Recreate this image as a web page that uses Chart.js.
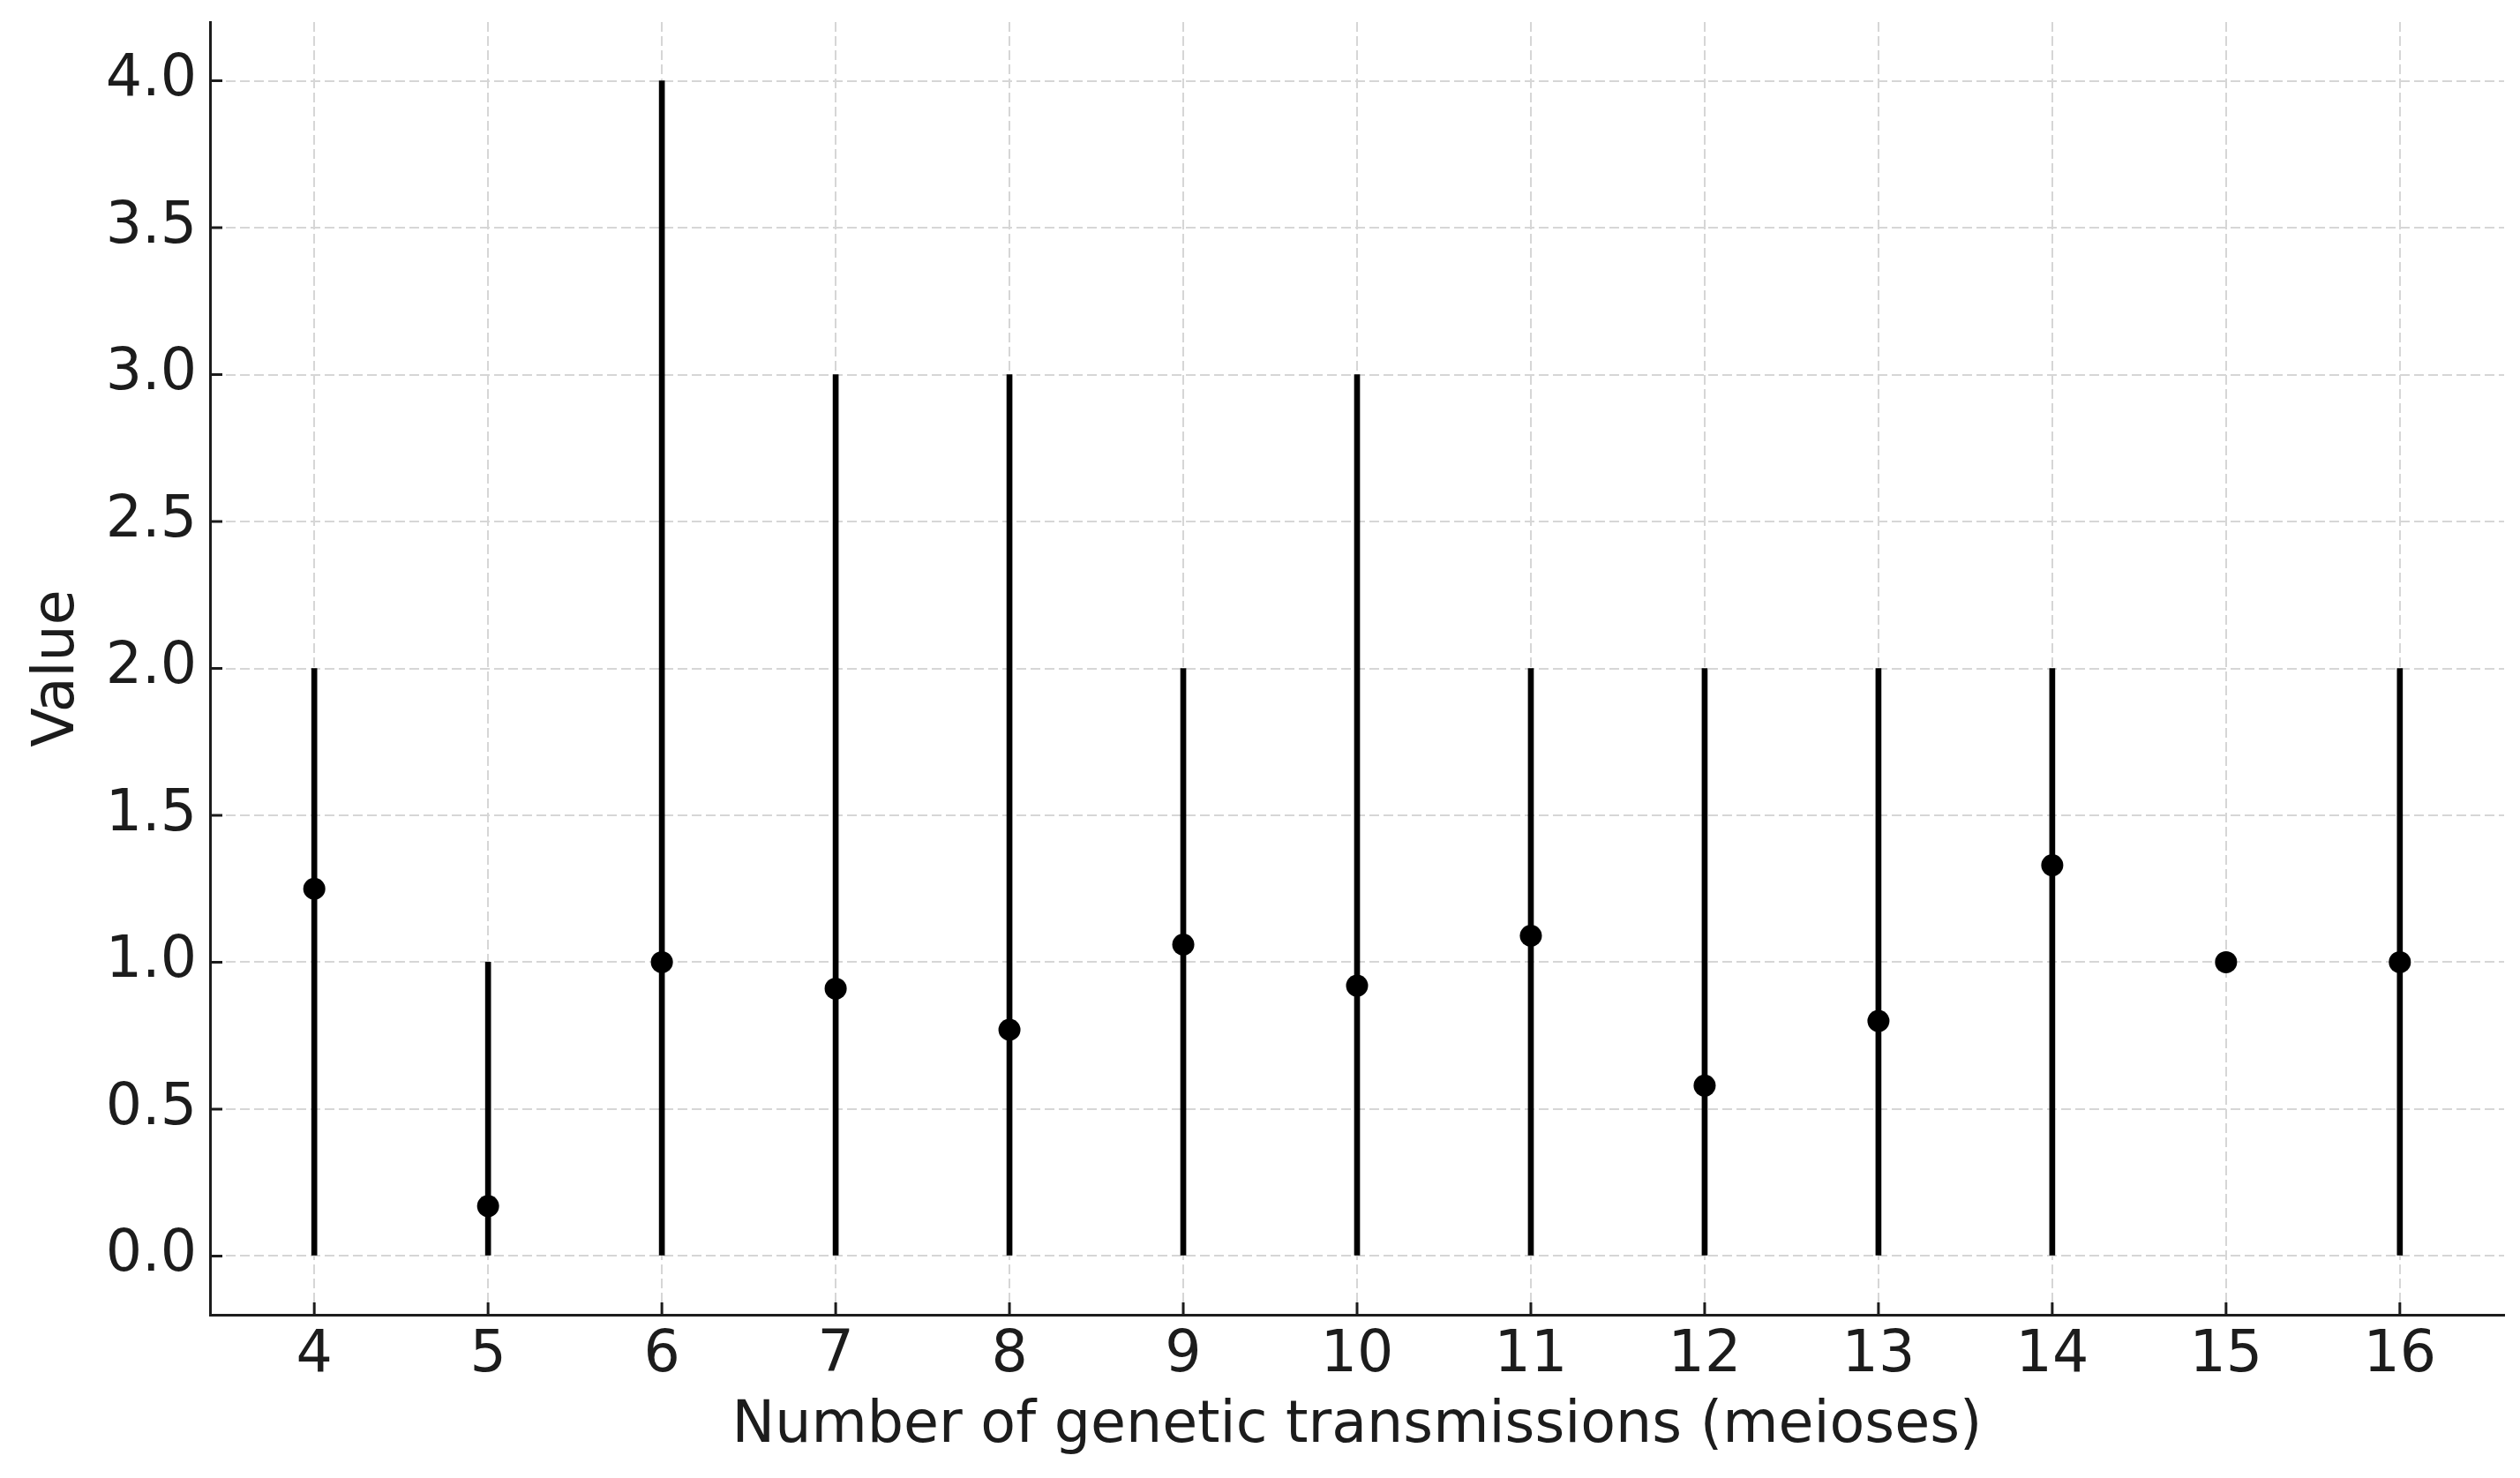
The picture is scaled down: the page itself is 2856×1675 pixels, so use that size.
<!DOCTYPE html>
<html>
<head>
<meta charset="utf-8">
<script src="https://cdn.jsdelivr.net/npm/chart.js@4/dist/chart.umd.min.js"></script>
<style>
  html, body { margin: 0; padding: 0; background: #ffffff; }
  #wrap { width: 2856px; height: 1675px; }
</style>
</head>
<body>
<div id="wrap"><canvas id="c" width="2856" height="1675"></canvas></div>
<script>
const meioses = [4, 5, 6, 7, 8, 9, 10, 11, 12, 13, 14, 15, 16];
const meanValues = [1.25, 0.17, 1.00, 0.91, 0.77, 1.06, 0.92, 1.09, 0.58, 0.80, 1.33, 1.00, 1.00];
const lowValues = [0, 0, 0, 0, 0, 0, 0, 0, 0, 0, 0, 1, 0];
const highValues = [2, 1, 4, 3, 3, 2, 3, 2, 2, 2, 2, 1, 2];
const xAxisTitle = 'Number of genetic transmissions (meioses)';
const yAxisTitle = 'Value';

const FONT = "'DejaVu Sans', 'Liberation Sans', sans-serif";
const TEXT = '#1c1c1c';
const SPINE = '#1c1c1c';
const GRID = '#d6d6d6';

const rangeData = meioses.map((x, i) => ({ x: x, y: [lowValues[i], highValues[i]] }));
const pointData = meioses.map((x, i) => ({ x: x, y: meanValues[i] }));

const inwardTicks = {
  id: 'inwardTicks',
  afterDraw(chart) {
    const ctx = chart.ctx;
    const area = chart.chartArea;
    const xs = chart.scales.x, ys = chart.scales.y;
    ctx.save();
    ctx.strokeStyle = SPINE;
    ctx.lineWidth = 3;
    ctx.beginPath();
    xs.ticks.forEach(t => {
      const px = xs.getPixelForValue(t.value);
      ctx.moveTo(px, area.bottom);
      ctx.lineTo(px, area.bottom - 14);
    });
    ys.ticks.forEach(t => {
      const py = ys.getPixelForValue(t.value);
      ctx.moveTo(area.left, py);
      ctx.lineTo(area.left + 14, py);
    });
    ctx.stroke();
    ctx.restore();
  }
};

new Chart(document.getElementById('c'), {
  type: 'bar',
  data: {
    datasets: [
      {
        type: 'scatter',
        data: pointData,
        backgroundColor: '#000000',
        borderColor: '#000000',
        pointRadius: 12.5,
        pointHoverRadius: 12.5,
        borderWidth: 0,
        order: 0
      },
      {
        type: 'bar',
        data: rangeData,
        backgroundColor: '#000000',
        borderWidth: 0,
        barThickness: 6,
        order: 1
      }
    ]
  },
  options: {
    responsive: false,
    animation: false,
    devicePixelRatio: 1,
    layout: { padding: { top: 25, right: 18, left: 0, bottom: 0 } },
    plugins: {
      legend: { display: false },
      tooltip: { enabled: false },
      title: { display: false }
    },
    scales: {
      x: {
        type: 'linear',
        offset: false,
        min: 3.4,
        max: 16.6,
        ticks: {
          stepSize: 1,
          includeBounds: false,
          padding: 8,
          color: TEXT,
          font: { family: FONT, size: 65 },
          maxRotation: 0,
          autoSkip: false
        },
        grid: {
          offset: false,
          color: GRID,
          lineWidth: 2,
          drawTicks: false
        },
        border: { display: true, color: SPINE, width: 3, dash: [11, 5] },
        title: {
          display: true,
          text: xAxisTitle,
          color: TEXT,
          font: { family: FONT, size: 65 },
          padding: { top: 0, bottom: 19 }
        },
        afterFit(scale) {
          scale.height = 185;
          scale.paddingLeft = 0; scale.paddingRight = 0;
          scale.paddingTop = 0; scale.paddingBottom = 0;
        }
      },
      y: {
        type: 'linear',
        min: -0.2,
        max: 4.2,
        ticks: {
          stepSize: 0.5,
          includeBounds: false,
          padding: 15,
          color: TEXT,
          font: { family: FONT, size: 65 },
          callback: v => Number(v).toFixed(1)
        },
        grid: {
          color: GRID,
          lineWidth: 2,
          drawTicks: false
        },
        border: { display: true, color: SPINE, width: 3, dash: [11, 5] },
        title: {
          display: true,
          text: yAxisTitle,
          color: TEXT,
          font: { family: FONT, size: 65 },
          padding: { top: 27, bottom: 0 }
        },
        afterFit(scale) {
          scale.width = 238;
          scale.paddingLeft = 0; scale.paddingRight = 0;
          scale.paddingTop = 0; scale.paddingBottom = 0;
        }
      }
    }
  },
  plugins: [inwardTicks]
});
</script>
</body>
</html>
